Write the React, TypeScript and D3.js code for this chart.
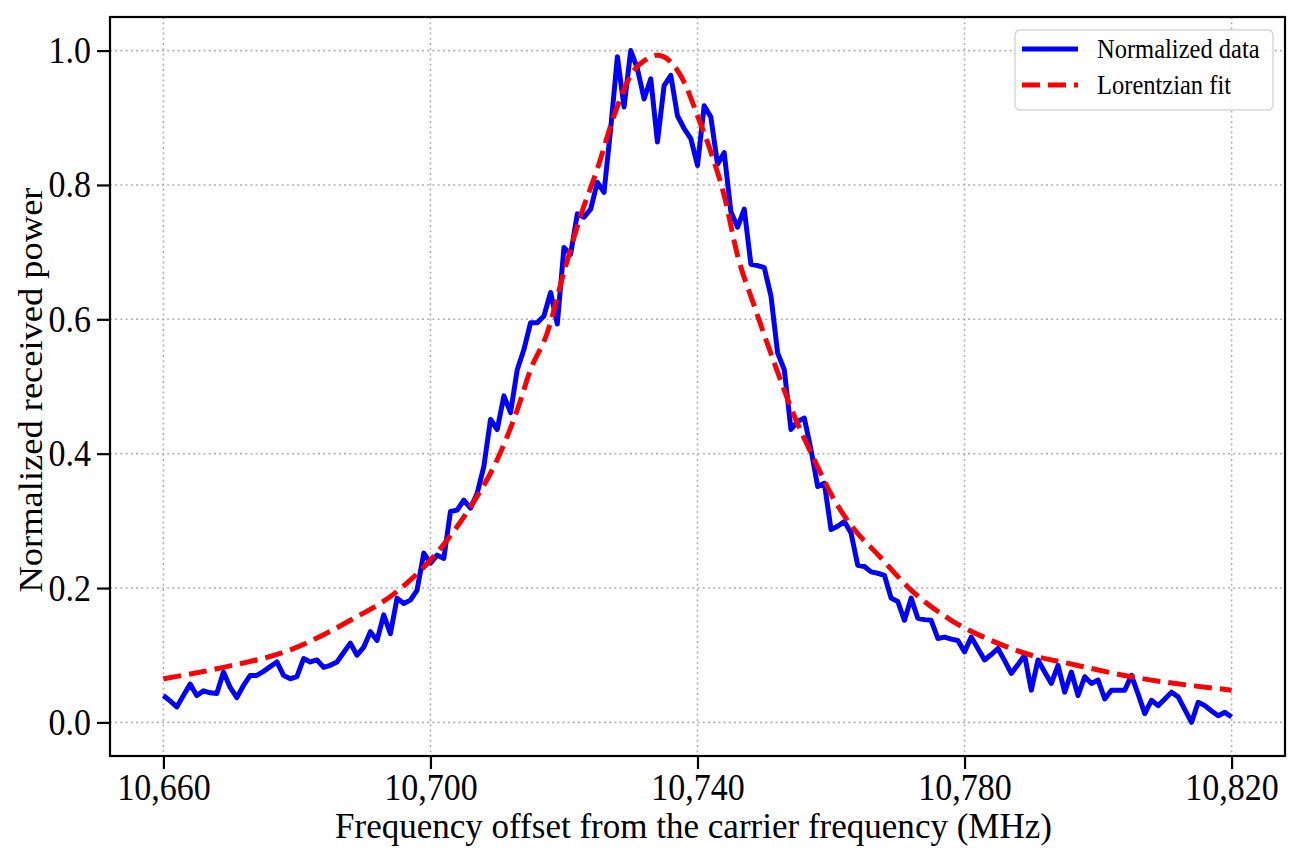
import * as d3 from 'd3';
import React, { useEffect, useRef } from 'react';

// measured spectrum, one point per MHz starting at 10,660 MHz
const startFreq = 10660;
const normalizedPower = [
    0.040, 0.032, 0.023, 0.040, 0.057, 0.040, 0.047, 0.044, 0.043, 0.075,
    0.052, 0.037, 0.055, 0.070, 0.070, 0.076, 0.083, 0.090, 0.070, 0.065,
    0.068, 0.095, 0.090, 0.093, 0.082, 0.085, 0.090, 0.104, 0.118, 0.100,
    0.112, 0.135, 0.122, 0.160, 0.132, 0.185, 0.177, 0.182, 0.197, 0.252,
    0.237, 0.249, 0.244, 0.314, 0.316, 0.331, 0.319, 0.341, 0.381, 0.451,
    0.436, 0.486, 0.461, 0.525, 0.555, 0.595, 0.595, 0.605, 0.640, 0.593,
    0.707, 0.697, 0.757, 0.752, 0.764, 0.804, 0.789, 0.884, 0.991, 0.916,
    1.000, 0.973, 0.928, 0.958, 0.864, 0.948, 0.963, 0.903, 0.884, 0.869,
    0.829, 0.918, 0.901, 0.831, 0.848, 0.760, 0.737, 0.764, 0.682, 0.680,
    0.677, 0.635, 0.550, 0.525, 0.436, 0.448, 0.453, 0.406, 0.351, 0.356,
    0.287, 0.292, 0.299, 0.282, 0.234, 0.232, 0.224, 0.222, 0.219, 0.185,
    0.180, 0.152, 0.185, 0.155, 0.153, 0.152, 0.125, 0.127, 0.124, 0.122,
    0.105, 0.127, 0.110, 0.093, 0.101, 0.110, 0.092, 0.073, 0.086, 0.100,
    0.048, 0.093, 0.075, 0.058, 0.085, 0.045, 0.075, 0.040, 0.068, 0.058,
    0.063, 0.035, 0.048, 0.048, 0.048, 0.070, 0.042, 0.013, 0.033, 0.025,
    0.035, 0.045, 0.038, 0.019, 0.000, 0.030, 0.025, 0.017, 0.010, 0.015,
    0.008,
];

// fitted curve
const fitFreqs = [
    10660, 10669, 10679, 10688, 10695, 10702, 10706, 10710, 10713, 10715,
    10717.5, 10720, 10722.5, 10725, 10727.5, 10730, 10732.5, 10734, 10736, 10738,
    10740, 10742, 10744, 10746, 10748.5, 10751.5, 10754.5, 10757.5, 10760.5, 10763.5,
    10767, 10772, 10778, 10784, 10790, 10795, 10805, 10820,
];
const fitPower = [
    0.065, 0.082, 0.108, 0.152, 0.195, 0.265, 0.321, 0.391, 0.465, 0.525,
    0.580, 0.670, 0.754, 0.824, 0.903, 0.963, 0.988, 0.993, 0.983, 0.953,
    0.903, 0.849, 0.784, 0.695, 0.620, 0.535, 0.456, 0.391, 0.331, 0.287,
    0.250, 0.197, 0.152, 0.122, 0.100, 0.089, 0.068, 0.048,
];

const xTicks = [10660, 10700, 10740, 10780, 10820];
const yTicks = [0, 0.2, 0.4, 0.6, 0.8, 1.0];
const legendLabels = ['Normalized data', 'Lorentzian fit'];

const W = 1299, H = 855;
const left = 110, right = 1285, top = 17, bottom = 756;
const font = '"Liberation Serif", "Times New Roman", serif';

// the source picture is a bit taller than wide: grow glyphs but keep the width
const stretch = (sel: any, size: number, k = 1.1) => {
    sel.each(function (this: any) {
        const t = d3.select(this);
        t.attr('font-size', size);
        const w = this.getComputedTextLength();
        t.attr('font-size', size * k).attr('textLength', w).attr('lengthAdjust', 'spacingAndGlyphs');
    });
};

export default () => {
    const ref = useRef<any>();

    useEffect(() => {
        const svg = d3.select<any, any>(ref.current);
        svg.selectAll('*').remove();

        const xScale = d3.scaleLinear().domain([10652, 10828]).range([left, right]);
        const yScale = d3.scaleLinear().domain([-0.05, 1.05]).range([bottom, top]);

        // grid
        const grid = svg.append('g')
            .attr('stroke', '#b0b0b0').attr('stroke-width', 1.6).attr('stroke-dasharray', '2,3.2');
        xTicks.forEach(t => grid.append('line')
            .attr('x1', xScale(t)).attr('x2', xScale(t)).attr('y1', top).attr('y2', bottom));
        yTicks.forEach(t => grid.append('line')
            .attr('x1', left).attr('x2', right).attr('y1', yScale(t)).attr('y2', yScale(t)));

        // series
        const data = normalizedPower.map((v, i) => [startFreq + i, v] as [number, number]);
        const line = d3.line<[number, number]>()
            .x(d => xScale(d[0])).y(d => yScale(d[1]));
        svg.append('path')
            .attr('d', line(data))
            .attr('fill', 'none').attr('stroke', '#0000ff').attr('stroke-width', 5)
            .attr('stroke-linejoin', 'round');

        const fit = fitFreqs.map((f, i) => [f, fitPower[i]] as [number, number]);
        const fitLine = d3.line<[number, number]>()
            .x(d => xScale(d[0])).y(d => yScale(d[1])).curve(d3.curveMonotoneX);
        svg.append('path')
            .attr('d', fitLine(fit))
            .attr('fill', 'none').attr('stroke', '#ff0000').attr('stroke-width', 5)
            .attr('stroke-dasharray', '18,8');

        // axes
        const xAxis = d3.axisBottom(xScale).tickValues(xTicks).tickSize(13).tickPadding(6)
            .tickFormat(d3.format(','));
        const gx = svg.append('g').attr('transform', `translate(0, ${bottom})`).call(xAxis);
        const yAxis = d3.axisLeft(yScale).tickValues(yTicks).tickSize(13).tickPadding(6)
            .tickFormat(d3.format('.1f'));
        const gy = svg.append('g').attr('transform', `translate(${left}, 0)`).call(yAxis);
        [gx, gy].forEach(g => {
            g.select('.domain').remove();
            g.selectAll('line').attr('stroke', '#000').attr('stroke-width', 2.2);
            g.selectAll('text').attr('font-family', font).attr('fill', '#000');
            stretch(g.selectAll('text'), 34);
        });
        gx.selectAll('text').attr('dy', '0.66em');
        gy.selectAll('text').attr('dy', '0.32em');

        svg.append('rect')
            .attr('x', left).attr('y', top).attr('width', right - left).attr('height', bottom - top)
            .attr('fill', 'none').attr('stroke', '#000').attr('stroke-width', 2.2);

        // axis labels
        svg.append('text')
            .attr('x', (left + right) / 2 - 4).attr('y', 838)
            .attr('text-anchor', 'middle').attr('font-family', font).attr('font-size', 36)
            .attr('textLength', 717).attr('lengthAdjust', 'spacingAndGlyphs')
            .text('Frequency offset from the carrier frequency (MHz)');
        svg.append('text')
            .attr('transform', `translate(42, 390) rotate(-90)`)
            .attr('text-anchor', 'middle').attr('font-family', font).attr('font-size', 33)
            .attr('textLength', 405).attr('lengthAdjust', 'spacingAndGlyphs')
            .text('Normalized received power');

        // legend
        const lg = svg.append('g');
        lg.append('rect')
            .attr('x', 1015).attr('y', 30).attr('width', 258).attr('height', 80).attr('rx', 5)
            .attr('fill', '#fff').attr('fill-opacity', 0.85).attr('stroke', '#d6d6d6').attr('stroke-width', 1.5);
        const styles = [
            { color: '#0000ff', dash: null },
            { color: '#ff0000', dash: '18,8' },
        ];
        legendLabels.forEach((label, i) => {
            const y = 49 + i * 36;
            lg.append('line')
                .attr('x1', 1022).attr('x2', 1078).attr('y1', y).attr('y2', y)
                .attr('stroke', styles[i].color).attr('stroke-width', 5)
                .attr('stroke-dasharray', styles[i].dash);
            const t = lg.append('text')
                .attr('x', 1097).attr('y', y + 9)
                .attr('font-family', font).attr('fill', '#000')
                .text(label);
            stretch(t, 24.5);
        });
    });

    return (
        <svg ref={ref} width={W} height={H}
            style={{ position: 'absolute', left: 0, top: 0, background: '#fff' }} />
    );
}
